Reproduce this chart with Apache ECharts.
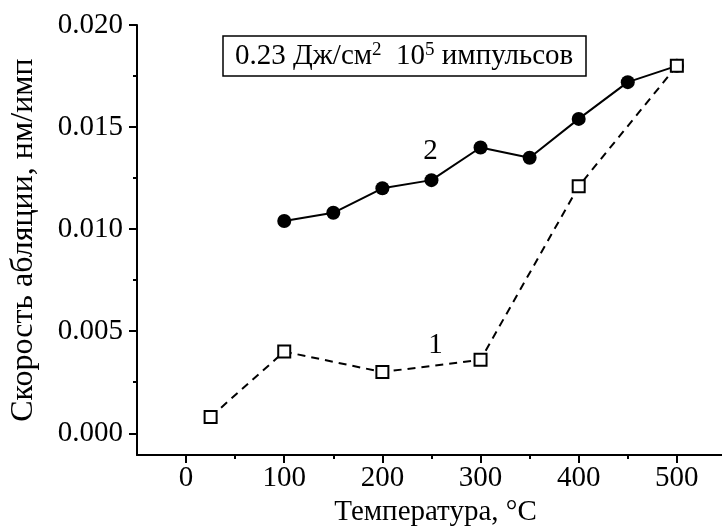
<!DOCTYPE html>
<html><head><meta charset="utf-8">
<script src="https://cdn.jsdelivr.net/npm/echarts@6/dist/echarts.min.js"></script>
<style>html,body{margin:0;padding:0;background:#fff}#c{width:722px;height:532px}</style>
</head><body><div id="c"></div>
<script>
// Series 1: open squares, dashed line
const temps1 = [25, 100, 200, 300, 400, 500];
const rate1 = [0.0008, 0.0040, 0.0030, 0.0036, 0.0121, 0.0180];
// Series 2: filled circles, solid line
const temps2 = [100, 150, 200, 250, 300, 350, 400, 450, 500];
const rate2 = [0.0104, 0.0108, 0.0120, 0.0124, 0.0140, 0.0135, 0.0154, 0.0172, 0.0180];
// Tick values
const xMajor = [0, 100, 200, 300, 400, 500];
const xMinor = [50, 150, 250, 350, 450];
const yMajor = [0, 0.005, 0.010, 0.015, 0.020];
const yMinor = [0.0025, 0.0075, 0.0125, 0.0175];
// Curve labels (data coords)
const label1 = {name: '1', x: 254, y: 0.0043};
const label2 = {name: '2', x: 249, y: 0.0138};

const F = '"Liberation Serif","Times New Roman",serif';
const X_MIN = -50, X_MAX = 546, Y_MIN = -0.00107, Y_MAX = 0.020;
const FS = 29;

const chart = echarts.init(document.getElementById('c'));
const common = {type: 'value', min: X_MIN, max: X_MAX, splitLine: {show: false}};
const mkLabel = d => ({
  symbol: 'circle', symbolSize: 0, silent: true,
  itemStyle: {color: 'rgba(0,0,0,0)'},
  label: {show: true, position: 'inside', formatter: d.name, fontFamily: F, fontSize: FS, color: '#000', textBorderWidth: 0},
  data: [{coord: [d.x, d.y]}]
});
chart.setOption({
  animation: false,
  backgroundColor: '#fff',
  grid: {left: 136, right: 0, top: 25, bottom: 74, containLabel: false},
  title: {
    text: '0.23 Дж/см{s|2}  10{s|5} импульсов',
    left: 223, top: 36,
    padding: [4, 13, 4, 12],
    borderColor: '#000', borderWidth: 1.5,
    textStyle: {
      fontFamily: F, fontSize: FS, fontWeight: 'normal', color: '#000', lineHeight: 32,
      rich: {s: {fontFamily: F, fontSize: 19, color: '#000', padding: [0, 0, 12, 0]}}
    }
  },
  xAxis: [
    Object.assign({}, common, {
      name: 'Температура, °C', nameLocation: 'middle', nameGap: 41,
      nameTextStyle: {fontFamily: F, fontSize: FS, color: '#000', padding: [0, 0, 0, 12]},
      axisLine: {show: true, onZero: false, lineStyle: {color: '#000', width: 2}},
      axisTick: {show: true, length: 8, customValues: xMajor, lineStyle: {color: '#000', width: 2}},
      axisLabel: {customValues: xMajor, fontFamily: F, fontSize: FS, color: '#000', margin: 9}
    }),
    Object.assign({}, common, {
      position: 'bottom',
      axisLine: {show: false, onZero: false},
      axisTick: {show: true, length: 4, customValues: xMinor, lineStyle: {color: '#000', width: 2}},
      axisLabel: {show: false}
    })
  ],
  yAxis: [
    {
      type: 'value', min: Y_MIN, max: Y_MAX, splitLine: {show: false},
      name: 'Скорость абляции, нм/имп', nameLocation: 'middle', nameGap: 97, nameRotate: 90,
      nameTextStyle: {fontFamily: F, fontSize: 32, color: '#000'},
      axisLine: {show: true, onZero: false, lineStyle: {color: '#000', width: 2}},
      axisTick: {show: true, length: 8, customValues: yMajor, lineStyle: {color: '#000', width: 2}},
      axisLabel: {customValues: yMajor, fontFamily: F, fontSize: FS, color: '#000', margin: 14,
        formatter: v => v.toFixed(3)}
    },
    {
      type: 'value', min: Y_MIN, max: Y_MAX, splitLine: {show: false}, position: 'left',
      axisLine: {show: false, onZero: false},
      axisTick: {show: true, length: 4, customValues: yMinor, lineStyle: {color: '#000', width: 2}},
      axisLabel: {show: false}
    }
  ],
  series: [
    {
      type: 'line', name: '2',
      data: temps2.map((t, i) => [t, rate2[i]]),
      symbol: 'circle', symbolSize: 14,
      itemStyle: {color: '#000', borderColor: '#000', borderWidth: 0},
      lineStyle: {color: '#000', width: 2, type: 'solid'},
      markPoint: mkLabel(label2),
      z: 3
    },
    {
      type: 'line', name: '1',
      data: temps1.map((t, i) => [t, rate1[i]]),
      symbol: 'rect', symbolSize: 12,
      itemStyle: {color: '#fff', borderColor: '#000', borderWidth: 2},
      lineStyle: {color: '#000', width: 2, type: [8, 6]},
      markPoint: mkLabel(label1),
      z: 4
    }
  ]
});
</script></body></html>
